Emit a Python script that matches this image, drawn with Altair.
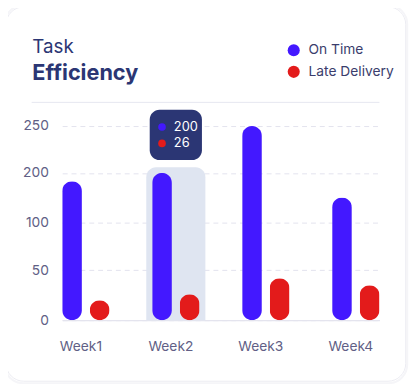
import altair as alt
import pandas as pd

# ---- data ----
weeks = ["Week1", "Week2", "Week3", "Week4"]
series = ["On Time", "Late Delivery"]
on_time = [183, 200, 250, 150]
late = [20, 26, 42, 35]
y_ticks = [0, 50, 100, 200, 250]
colors = ["#4318FF", "#E31B1B"]
highlight_week = "Week2"

NAVY = "#2B3674"
FONT = "Inter"
W, H = 322, 197

rows = []
for i, w in enumerate(weeks):
    rows.append({"week": w, "series": series[0], "value": on_time[i]})
    rows.append({"week": w, "series": series[1], "value": late[i]})
df = pd.DataFrame(rows)

hi = weeks.index(highlight_week)
tip = pd.DataFrame({
    "week": [highlight_week, highlight_week],
    "series": series,
    "label": [str(on_time[hi]), str(late[hi])],
    "ty": [249, 231.5],
})
one = pd.DataFrame({"a": [0]})

yscale = alt.Scale(domain=y_ticks, range=[H, 146.3, 97.6, 47.6, 0], nice=False, zero=False)
xscale = alt.Scale(domain=weeks, paddingInner=0.474, paddingOuter=0)

x_enc = alt.X("week:N", scale=xscale, sort=weeks,
              axis=alt.Axis(title=None, labelAngle=0, labelFont=FONT, labelFontSize=14,
                            labelColor="#615F86", labelPadding=20, labelOffset=-5,
                            ticks=False, tickSize=0, domain=True, domainColor="#E4E4EE",
                            domainWidth=1.5, grid=False))

# card outline + soft shadow
card = alt.Chart(one).mark_rect(fill="transparent", stroke="#ECECF2", strokeWidth=1,
                                cornerRadius=18).encode(
    x=alt.value(-57), x2=alt.value(348.7), y=alt.value(-121), y2=alt.value(259))
shadow1 = alt.Chart(one).mark_rect(fill="transparent", stroke="#F5F5F8", strokeWidth=2,
                                   cornerRadius=19).encode(
    x=alt.value(-58.5), x2=alt.value(350.2), y=alt.value(-122.5), y2=alt.value(261))

sep = alt.Chart(one).mark_rule(color="#E6E8F0", strokeWidth=1).encode(
    x=alt.value(-31), x2=alt.value(322), y=alt.value(-24))

t1 = alt.Chart(one).mark_text(text="Task", align="left", baseline="alphabetic",
                              font=FONT, fontSize=19, fontWeight="normal", color=NAVY).encode(
    x=alt.value(-30.3), y=alt.value(-74))
t2 = alt.Chart(one).mark_text(text="Efficiency", align="left", baseline="alphabetic",
                              font=FONT, fontSize=22, fontWeight="bold", color=NAVY).encode(
    x=alt.value(-30.3), y=alt.value(-46.7))

highlight = alt.Chart(pd.DataFrame({"week": [highlight_week], "top": [206], "base": [0]})).mark_bar(
    width=60, color="#DFE5F1", cornerRadiusTopLeft=10, cornerRadiusTopRight=10).encode(
    x=x_enc,
    y=alt.Y("base:Q", scale=yscale),
    y2="top:Q")

bars = alt.Chart(df).mark_bar(cornerRadius=10).encode(
    x=x_enc,
    xOffset=alt.XOffset("series:N", sort=series,
                        scale=alt.Scale(domain=series, paddingInner=0.2857, paddingOuter=0)),
    y=alt.Y("value:Q", scale=yscale,
            axis=alt.Axis(title=None, values=y_ticks, labelFont=FONT, labelFontSize=14,
                          labelColor="#615F86", labelPadding=14, ticks=False, tickSize=0,
                          domain=False, grid=True, gridColor="#E3E3EE", gridDash=[5, 4],
                          gridWidth=1)),
    color=alt.Color("series:N", sort=series,
                    scale=alt.Scale(domain=series, range=colors),
                    legend=alt.Legend(title=None, orient="none", legendX=228, legendY=-84,
                                      direction="vertical", symbolType="circle",
                                      symbolSize=150, symbolStrokeWidth=0, labelFont=FONT,
                                      labelFontSize=14, labelColor="#3A3D6C",
                                      labelOffset=8, rowPadding=8, padding=0)),
)

tipbox = alt.Chart(pd.DataFrame({"week": [highlight_week], "top": [267.5], "base": [213.7]})).mark_bar(
    width=53, color=NAVY, cornerRadius=10).encode(
    x=x_enc, y=alt.Y("base:Q", scale=yscale), y2="top:Q")

tipdots = alt.Chart(tip).mark_circle(size=60, opacity=1).encode(
    x=x_enc, xOffset=alt.value(10), y=alt.Y("ty:Q", scale=yscale),
    color=alt.Color("series:N", sort=series, scale=alt.Scale(domain=series, range=colors),
                    legend=None))

tiptext = alt.Chart(tip).mark_text(align="left", baseline="middle", dx=-2, font=FONT,
                                   fontSize=13, color="white").encode(
    x=x_enc, y=alt.Y("ty:Q", scale=yscale), text="label:N")

chart = alt.layer(shadow1, card, sep, t1, t2, highlight, bars, tipbox, tipdots, tiptext).properties(
    width=W, height=H,
    background="white",
    autosize=alt.AutoSizeParams(type="none"),
    padding={"left": 55, "top": 117, "right": 30, "bottom": 62},
).configure_view(stroke=None)

chart.save("out.html", embed_options={"renderer": "svg", "actions": False})
